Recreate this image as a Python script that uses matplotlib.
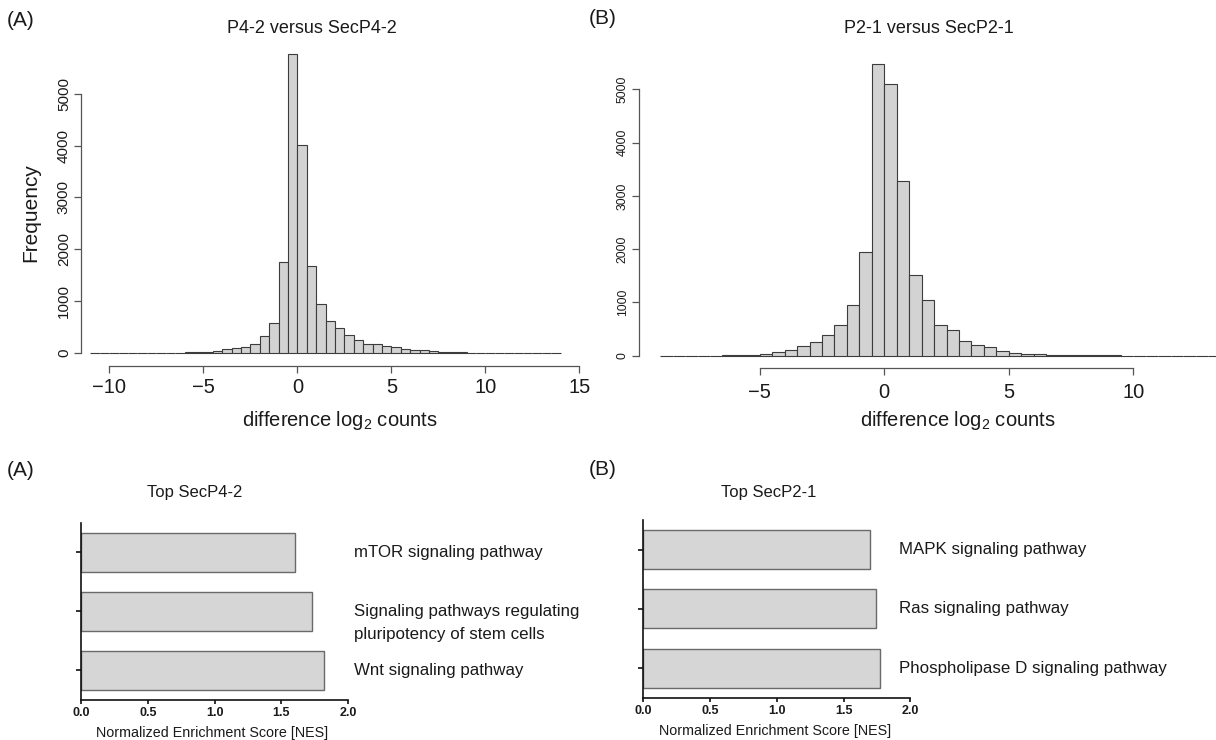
import matplotlib
matplotlib.use("Agg")
import matplotlib.pyplot as plt
import numpy as np
from matplotlib import font_manager as fm

# ---------------------------------------------------------------- data
bin_width = 0.5

# log2 count differences, P4-2 vs SecP4-2 (bins of 0.5 starting at -11)
p42_bin_start = -11.0
p42_counts = [1, 1, 1, 2, 4, 3, 3, 4, 5, 6,
              10, 15, 22, 35, 68, 93, 116, 176, 337, 585,
              1755, 5760, 4005, 1680, 942, 611, 480, 353, 257, 180,
              167, 141, 110, 84, 64, 51, 35, 22, 14, 12,
              8, 6, 5, 4, 3, 2, 2, 1, 1, 1]

# log2 count differences, P2-1 vs SecP2-1 (bins of 0.5 starting at -9)
p21_bin_start = -9.0
p21_counts = [1, 1, 2, 2, 3, 5, 10, 19, 32, 64,
              101, 176, 265, 385, 585, 958, 1946, 5470, 5090, 3285,
              1509, 1036, 579, 482, 282, 192, 166, 90, 60, 32,
              28, 20, 15, 8, 6, 5, 4, 3, 2, 1,
              1, 1, 0, 1, 0, 0]

hist_titles = ["P4-2 versus SecP4-2", "P2-1 versus SecP2-1"]
hist_xticks_a = [-10, -5, 0, 5, 10, 15]
hist_xticks_b = [-5, 0, 5, 10]
hist_yticks = [0, 1000, 2000, 3000, 4000, 5000]

secp42_title = "Top SecP4-2"
secp42_pathways = ["mTOR signaling pathway",
                   "Signaling pathways regulating\npluripotency of stem cells",
                   "Wnt signaling pathway"]
secp42_nes = [1.60, 1.73, 1.82]

secp21_title = "Top SecP2-1"
secp21_pathways = ["MAPK signaling pathway",
                   "Ras signaling pathway",
                   "Phospholipase D signaling pathway"]
secp21_nes = [1.70, 1.74, 1.77]

nes_ticks = [0.0, 0.5, 1.0, 1.5, 2.0]

# ---------------------------------------------------------------- style
W, H, DPI = 1216, 740, 100
names = {f.name for f in fm.fontManager.ttflist}
REG = "Liberation Sans" if "Liberation Sans" in names else "DejaVu Sans"
NARROW = "Liberation Sans Narrow" if "Liberation Sans Narrow" in names else REG
plt.rcParams["font.family"] = REG
plt.rcParams["mathtext.fontset"] = "custom"
plt.rcParams["mathtext.rm"] = NARROW
plt.rcParams["mathtext.it"] = NARROW

TXT = "#1a1a1a"
AXC = "#555555"
HIST_FACE = "#d3d3d3"
HIST_EDGE = "#3c3c3c"
BAR_FACE = "#d6d6d6"
BAR_EDGE = "#6a6a6a"


def box(left, top, right, bottom):
    return [left / W, 1 - bottom / H, (right - left) / W, (bottom - top) / H]


def fx(x):
    return x / W


def fy(y):
    return 1 - y / H


def px2pt(p):
    return p * 72.0 / DPI


fig = plt.figure(figsize=(W / DPI, H / DPI), dpi=DPI)
fig.patch.set_facecolor("white")


def draw_hist(rect, start, counts, xlim, ylim, xticks, xbounds, drop_px,
              ytick_size, xpad):
    ax = fig.add_axes(rect)
    edges = start + bin_width * np.arange(len(counts))
    ax.bar(edges, counts, width=bin_width, align="edge", color=HIST_FACE,
           edgecolor=HIST_EDGE, linewidth=0.8, clip_on=False)
    ax.set_xlim(*xlim)
    ax.set_ylim(*ylim)
    for s in ("top", "right"):
        ax.spines[s].set_visible(False)
    ax.spines["bottom"].set_position(("outward", px2pt(drop_px)))
    ax.spines["bottom"].set_bounds(xbounds[0], xbounds[1])
    ax.spines["left"].set_bounds(0, 5000)
    for s in ("bottom", "left"):
        ax.spines[s].set_color(AXC)
        ax.spines[s].set_linewidth(0.9)
    ax.set_xticks(xticks)
    ax.set_yticks(hist_yticks)
    ax.tick_params(axis="both", direction="out", length=px2pt(7), width=0.9,
                   color=AXC, labelcolor=TXT)
    ax.tick_params(axis="x", pad=xpad)
    ax.tick_params(axis="y", pad=2)
    for lab in ax.get_xticklabels():
        lab.set_fontfamily(NARROW)
        lab.set_fontsize(14.5)
    for lab in ax.get_yticklabels():
        lab.set_rotation(90)
        lab.set_fontsize(ytick_size)
        lab.set_va("center")
    ax.set_facecolor("none")
    return ax


# histogram (A)
draw_hist(box(80.7, 40, 583.1, 353), p42_bin_start, p42_counts,
          (-11.521, 15.2), (0, 6035), hist_xticks_a, (-10, 15), 12.7, 11.0, 4)
# histogram (B)
draw_hist(box(638.7, 40, 1257.8, 355.7), p21_bin_start, p21_counts,
          (-9.863, 15.0), (0, 5925), hist_xticks_b, (-5, 10), 12.0, 8.8, 6)

xlab = r"difference log$_{\mathrm{2}}$ counts"
fig.text(fx(311.5), fy(28.3), hist_titles[0], ha="center", va="center",
         fontsize=13, color=TXT)
fig.text(fx(929), fy(28.3), hist_titles[1], ha="center", va="center",
         fontsize=13, color=TXT)
fig.text(fx(340), fy(420), xlab, ha="center", va="center", fontsize=14.5,
         family=NARROW, color=TXT)
fig.text(fx(958), fy(420), xlab, ha="center", va="center", fontsize=14.5,
         family=NARROW, color=TXT)
fig.text(fx(30.6), fy(213), "Frequency", ha="center", va="center",
         rotation=90, fontsize=15, color=TXT)

# panel letters
fig.text(fx(7), fy(21), "(A)", ha="left", va="center", fontsize=15, color=TXT)
fig.text(fx(589), fy(19), "(B)", ha="left", va="center", fontsize=15, color=TXT)
fig.text(fx(7), fy(470.7), "(A)", ha="left", va="center", fontsize=15, color=TXT)
fig.text(fx(589), fy(470), "(B)", ha="left", va="center", fontsize=15, color=TXT)


def draw_nes(rect, title, title_xy, pathways, nes, label_x, xlabel_xy):
    ax = fig.add_axes(rect)
    pos = np.arange(len(nes))
    ax.barh(pos, nes, height=0.66, color=BAR_FACE, edgecolor=BAR_EDGE,
            linewidth=1.0)
    ax.set_xlim(0, 2)
    ax.set_ylim(len(nes) - 0.5, -0.5)
    for s in ("top", "right"):
        ax.spines[s].set_visible(False)
    for s in ("bottom", "left"):
        ax.spines[s].set_color("#111111")
        ax.spines[s].set_linewidth(1.2)
    ax.set_yticks(pos)
    ax.set_yticklabels([])
    ax.set_xticks(nes_ticks)
    ax.set_xticklabels([f"{t:.1f}" for t in nes_ticks], fontweight="bold",
                       fontsize=9, color=TXT)
    ax.tick_params(axis="y", length=px2pt(5.5), width=1.2, color="#111111")
    ax.tick_params(axis="x", length=px2pt(3.5), width=1.2, color="#111111",
                   pad=2.5)
    line_step = 0.395
    for i, name in enumerate(pathways):
        for k, line in enumerate(name.split("\n")):
            ax.text(label_x, i + k * line_step, line, ha="left", va="center",
                    fontsize=12.2, color=TXT, clip_on=False)
    fig.text(fx(title_xy[0]), fy(title_xy[1]), title, ha="center",
             va="center", fontsize=12, color=TXT)
    fig.text(fx(xlabel_xy[0]), fy(xlabel_xy[1]),
             "Normalized Enrichment Score [NES]", ha="center", va="center",
             fontsize=10.3, color=TXT)
    return ax


draw_nes(box(81.1, 522.7, 348.2, 700), secp42_title, (195, 492),
         secp42_pathways, secp42_nes, 2.043, (212.4, 732.5))
draw_nes(box(643.2, 520, 910.4, 697.7), secp21_title, (768.6, 492.7),
         secp21_pathways, secp21_nes, 1.912, (774.8, 731))

fig.savefig("out.png", dpi=DPI, facecolor="white")
